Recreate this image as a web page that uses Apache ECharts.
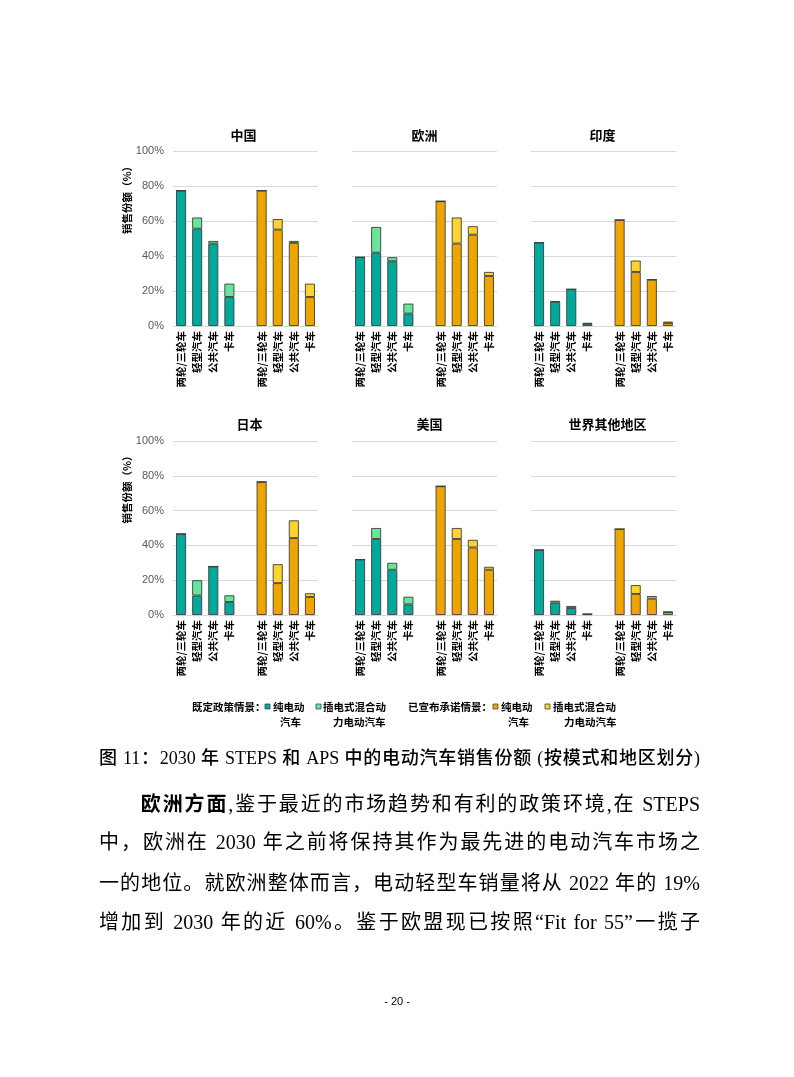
<!DOCTYPE html>
<html>
<head>
<meta charset="utf-8">
<script src="https://cdn.jsdelivr.net/npm/echarts@6/dist/echarts.min.js"></script>
<style>
    body { margin: 0; background: #fff; }
    #chart { position: absolute; left: 0; top: 0; width: 794px; height: 1077px; }
    .line {
        position: absolute; left: 99px; width: 601px; height: 30px; line-height: 30px;
        white-space: nowrap; text-align: justify; text-align-last: justify;
        font-family: "Liberation Serif", "Noto Sans CJK SC"; color: #000; font-size: 20px;
    }
    .caption { font-size: 18px; font-weight: 500; }
    .bold { font-family: "Noto Sans CJK SC"; font-weight: bold; }
    .pageno {
        position: absolute; left: 0; width: 794px; top: 995px; text-align: center;
        font-family: "Liberation Sans"; font-size: 11px; color: #000;
    }
</style>
</head>
<body>
<div id="chart"></div>
<div class="line caption" style="top:743px;">图 11：2030 年 STEPS 和 APS 中的电动汽车销售份额 (按模式和地区划分)</div>
<div class="line" style="top:788px;"><span style="display:inline-block;width:40px;"></span><span class="bold">欧洲方面</span>,鉴于最近的市场趋势和有利的政策环境,在 STEPS</div>
<div class="line" style="top:827px;">中，欧洲在 2030 年之前将保持其作为最先进的电动汽车市场之</div>
<div class="line" style="top:868px;">一的地位。就欧洲整体而言，电动轻型车销量将从 2022 年的 19%</div>
<div class="line" style="top:907px;">增加到 2030 年的近 60%。鉴于欧盟现已按照“Fit for 55”一揽子</div>
<div class="pageno">- 20 -</div>
<script>
    // 地区 / 车型
    const regions = ['中国', '欧洲', '印度', '日本', '美国', '世界其他地区'];
    const modes = ['两轮/三轮车', '轻型汽车', '公共汽车', '卡车'];
    // 既定政策情景 (STEPS)，每行一个地区
    const stepsBev = [
        [77.4, 55.6, 47.1, 16.6],
        [39.3, 41.9, 37.0, 7.1],
        [47.7, 13.8, 21.0, 1.2],
        [46.6, 11.2, 27.9, 7.5],
        [31.9, 43.7, 26.0, 6.1],
        [37.4, 7.1, 4.0, 0.5]
    ];
    const stepsPhev = [
        [0, 6.4, 1.5, 7.6],
        [0, 14.7, 2.3, 5.7],
        [0, 0.4, 0, 0.6],
        [0, 8.8, 0, 3.8],
        [0, 6.3, 4.0, 4.4],
        [0, 1.1, 1.2, 0.1]
    ];
    // 已宣布承诺情景 (APS)
    const apsBev = [
        [77.4, 55.1, 47.5, 16.6],
        [71.3, 47.1, 52.2, 28.6],
        [60.6, 30.9, 26.5, 1.6],
        [76.5, 18.3, 44.2, 10.4],
        [74.0, 43.7, 38.8, 26.0],
        [49.4, 12.1, 9.4, 1.6]
    ];
    const apsPhev = [
        [0, 6.0, 1.1, 7.6],
        [0, 14.9, 4.8, 2.3],
        [0, 6.5, 0, 0.9],
        [0, 10.9, 10.2, 2.1],
        [0, 6.3, 4.4, 1.7],
        [0, 5.1, 1.5, 0.3]
    ];

    const colors = { stepsBev: '#00a99a', stepsPhev: '#66e69a', apsBev: '#eea500', apsPhev: '#fed22f' };
    const cjk = '"Noto Sans CJK SC", sans-serif';
    const categories = modes.concat([''], modes);
    const blank = ['-', '-', '-', '-', '-'];

    const colLeft = [173, 352, 531];
    const rowTop = [151, 441];
    const rowHeight = [175, 174];
    const titleTop = [129, 418];
    const titleShift = [[-2, 0, -1], [4, 5, 4]];

    let grid = [], xAxis = [], yAxis = [], series = [], title = [];
    regions.forEach(function (name, i) {
        let r = Math.floor(i / 3), c = i % 3;
        grid.push({ left: colLeft[c], top: rowTop[r], width: 145, height: rowHeight[r] });
        title.push({
            text: name, left: colLeft[c] + 72.5 + titleShift[r][c], top: titleTop[r], textAlign: 'center', padding: 0,
            textStyle: { fontFamily: cjk, fontSize: 13, fontWeight: 'bold', color: '#000' }
        });
        xAxis.push({
            type: 'category', gridIndex: i, data: categories,
            axisLine: { lineStyle: { color: '#d9d9d9' } },
            axisTick: { show: false },
            axisLabel: { interval: 0, rotate: 90, margin: 5, fontFamily: cjk, fontSize: 10.5, fontWeight: 'bold', color: '#000' }
        });
        yAxis.push({
            type: 'value', gridIndex: i, min: 0, max: 100, interval: 20,
            name: c === 0 ? '销售份额（%）' : '',
            nameLocation: 'middle', nameGap: 40, nameRotate: 90,
            nameTextStyle: { fontFamily: cjk, fontSize: 10.5, fontWeight: 'bold', color: '#000', padding: [0, 0, 0, 82] },
            axisLine: { show: false }, axisTick: { show: false },
            splitLine: { lineStyle: { color: '#d9d9d9' } },
            axisLabel: { show: c === 0, formatter: '{value}%', fontFamily: 'Liberation Sans', fontSize: 11, color: '#595959', margin: 9 }
        });
        let parts = [
            ['既定政策情景：纯电动汽车', stepsBev[i].concat(blank), colors.stepsBev],
            ['既定政策情景：插电式混合动力电动汽车', stepsPhev[i].concat(blank), colors.stepsPhev],
            ['已宣布承诺情景：纯电动汽车', blank.concat(apsBev[i]), colors.apsBev],
            ['已宣布承诺情景：插电式混合动力电动汽车', blank.concat(apsPhev[i]), colors.apsPhev]
        ];
        parts.forEach(function (p) {
            series.push({
                name: p[0], type: 'bar', stack: 'g' + i, xAxisIndex: i, yAxisIndex: i,
                barWidth: 10, data: p[1],
                itemStyle: { color: p[2], borderColor: '#3d3d3d', borderWidth: 0.9 }
            });
        });
    });

    // 图例
    const legendFont = 'bold 10.5px "Noto Sans CJK SC"';
    function lt(x, y, s) {
        return { type: 'text', x: x, y: y, style: { text: s, font: legendFont, fill: '#000', verticalAlign: 'middle' } };
    }
    function lr(x, col) {
        return { type: 'rect', shape: { x: x, y: 704, width: 5, height: 5 }, style: { fill: col, stroke: '#444', lineWidth: 0.8 } };
    }
    const graphic = [
        lt(192, 707, '既定政策情景：'),
        lr(265, colors.stepsBev), lt(273, 707, '纯电动'), lt(280, 722, '汽车'),
        lr(316, colors.stepsPhev), lt(323, 707, '插电式混合动'), lt(333, 722, '力电动汽车'),
        lt(408, 707, '已宣布承诺情景：'),
        lr(493, colors.apsBev), lt(501, 707, '纯电动'), lt(508, 722, '汽车'),
        lr(545, colors.apsPhev), lt(553, 707, '插电式混合动'), lt(564, 722, '力电动汽车')
    ];

    var myChart = echarts.init(document.getElementById('chart'));
    myChart.setOption({
        animation: false,
        title: title,
        grid: grid,
        xAxis: xAxis,
        yAxis: yAxis,
        series: series,
        graphic: graphic
    });
</script>
</body>
</html>
